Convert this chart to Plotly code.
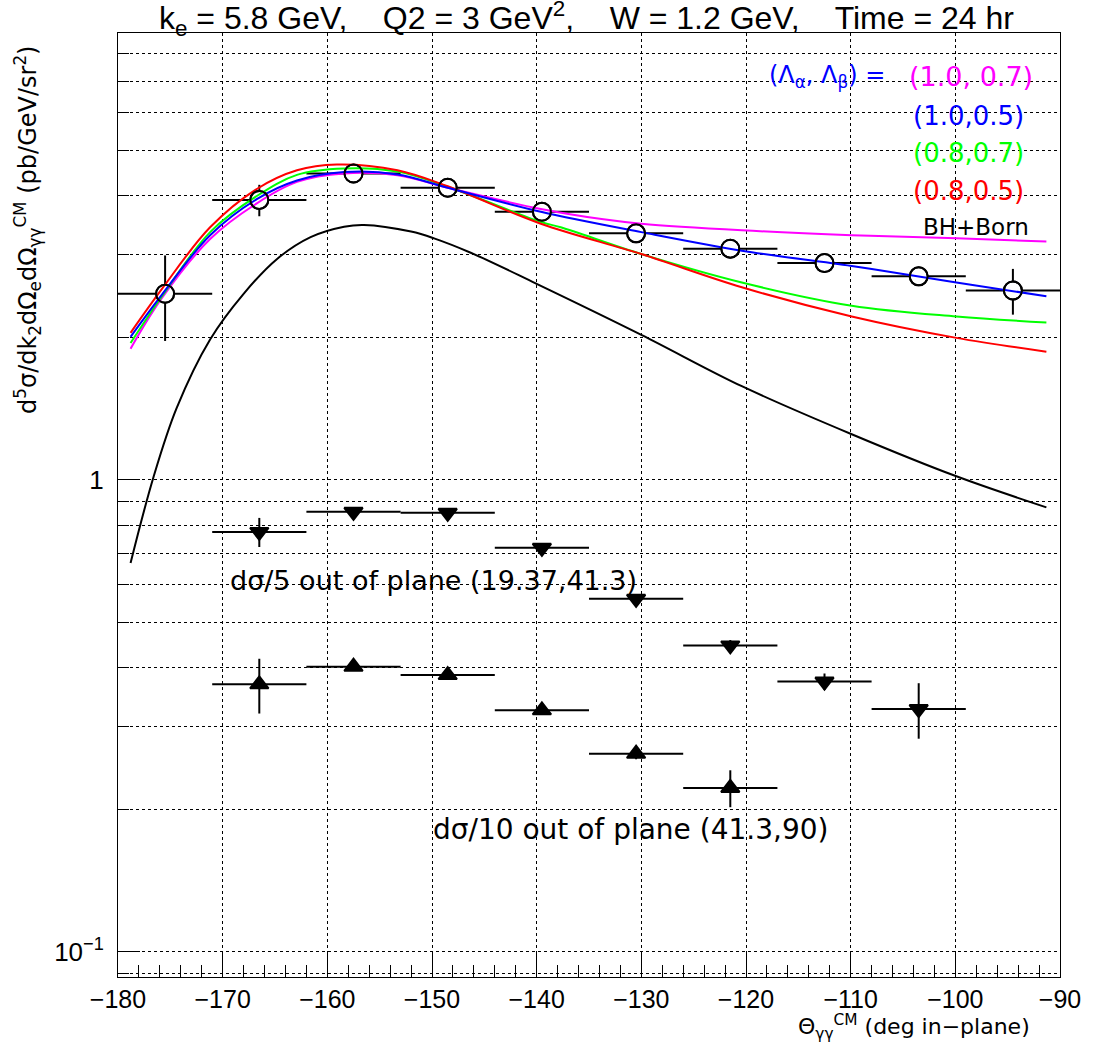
import numpy as np
import plotly.graph_objects as go

# ---------------- data ----------------
bin_centers = [-175.5, -166.5, -157.5, -148.5, -139.5, -130.5, -121.5, -112.5, -103.5, -94.5]
bin_half = 4.5

inplane_y = [2.48, 3.92, 4.46, 4.16, 3.70, 3.33, 3.09, 2.88, 2.70, 2.52]
inplane_err = [0.51, 0.30, 0.10, 0.09, 0.08, 0.07, 0.07, 0.06, 0.06, 0.28]

out5_x = [-166.5, -157.5, -148.5, -139.5, -130.5, -121.5, -112.5, -103.5]
out5_y = [0.776, 0.856, 0.852, 0.718, 0.560, 0.446, 0.374, 0.327]
out5_err = [0.055, 0.02, 0.02, 0.015, 0.012, 0.012, 0.015, 0.044]

out10_x = [-166.5, -157.5, -148.5, -139.5, -130.5, -121.5]
out10_y = [0.369, 0.402, 0.386, 0.325, 0.263, 0.2226]
out10_err = [0.049, 0.008, 0.008, 0.007, 0.007, 0.02]

bh_x = [-178.8, -176.6, -174.4, -171.2, -168.0, -164.8, -161.6, -158.4, -156.5, -152.0,
        -149.8, -146.3, -140.1, -130.0, -120.4, -109.9, -99.9, -91.3]
bh_y = [0.667, 1.016, 1.42, 1.985, 2.48, 2.94, 3.27, 3.44, 3.47, 3.36,
        3.25, 3.03, 2.61, 2.03, 1.58, 1.25, 1.018, 0.875]

mag_x = [-178.8, -175.8, -171.2, -166.7, -162.9, -158.4, -153.3, -148.5, -139.6, -133.8, -130.0,
         -120.4, -109.9, -99.9, -91.3]
mag_y = [1.897, 2.43, 3.24, 3.86, 4.28, 4.46, 4.42, 4.16, 3.75, 3.57, 3.49,
         3.38, 3.30, 3.25, 3.20]

blue_x = [-178.8, -175.8, -171.2, -166.7, -162.9, -158.4, -153.3, -148.5, -139.6, -130.0,
          -120.4, -109.9, -99.9, -91.3]
blue_y = [2.01, 2.47, 3.30, 3.94, 4.31, 4.49, 4.44, 4.16, 3.70, 3.35,
          3.06, 2.84, 2.62, 2.45]

green_x = [-178.8, -175.8, -171.2, -166.7, -162.9, -158.4, -153.3, -148.5, -139.6, -137.7, -130.0,
           -120.4, -109.9, -99.9, -91.3]
green_y = [1.95, 2.45, 3.35, 4.00, 4.43, 4.57, 4.50, 4.18, 3.52, 3.43, 3.01,
           2.62, 2.34, 2.22, 2.155]

red_x = [-178.8, -175.8, -171.2, -166.7, -162.9, -159.1, -153.3, -148.5, -139.6, -130.0,
         -120.4, -109.9, -99.9, -91.3]
red_y = [2.05, 2.54, 3.43, 4.14, 4.53, 4.66, 4.53, 4.19, 3.49, 3.01,
         2.56, 2.22, 2.00, 1.87]

x_ticks = list(range(-180, -89, 10))
x_minor = list(range(-180, -89, 2))
y_major = [0.1, 1]
y_major_text = ["10<sup>\u22121</sup>", "1"]
y_minor = [0.09] + [k / 10 for k in range(2, 10)] + list(range(2, 10))

title_text = ("k<sub>e</sub> = 5.8 GeV,    Q2 = 3 GeV<sup>2</sup>,    "
              "W = 1.2 GeV,    Time = 24 hr")

NFONT = "Liberation Sans Narrow, Liberation Sans, Arial, sans-serif"
RFONT = "Liberation Sans, Arial, sans-serif"
TFONT = "DejaVu Sans, sans-serif"

# ---------------- geometry ----------------
H, W = 1046, 1094
ml, mr, mt, mb = 118, 34, 33, 69
pw, ph = W - ml - mr, H - mt - mb

def px2paper(px, py):
    return (px - ml) / pw, 1 - (py - mt) / ph

fig = go.Figure()

def pts(xs, ys, errs, symbol, size, fill):
    fig.add_trace(go.Scatter(
        x=xs, y=ys, mode="markers",
        marker=dict(symbol=symbol, size=size, color=fill, line=dict(color="black", width=2)),
        error_x=dict(type="constant", value=bin_half, width=0, thickness=2, color="black"),
        error_y=dict(type="data", array=errs, width=0, thickness=2, color="black"),
        showlegend=False, hoverinfo="skip"))

# in-plane points first (white fill hides the error bars inside the circles)
pts(bin_centers, inplane_y, inplane_err, "circle", 18, "white")

# curves
for xs, ys, col in [(mag_x, mag_y, "#ff00ff"), (green_x, green_y, "#00ff00"),
                    (red_x, red_y, "#ff0000"), (blue_x, blue_y, "#0000ff"),
                    (bh_x, bh_y, "black")]:
    fig.add_trace(go.Scatter(x=xs, y=ys, mode="lines",
                             line=dict(color=col, width=2, shape="spline", smoothing=1.0),
                             showlegend=False, hoverinfo="skip"))

# circle outlines on top
fig.add_trace(go.Scatter(x=bin_centers, y=inplane_y, mode="markers",
                         marker=dict(symbol="circle-open", size=18, color="black", line=dict(width=2)),
                         showlegend=False, hoverinfo="skip"))

pts(out5_x, out5_y, out5_err, "triangle-down", 16, "black")
pts(out10_x, out10_y, out10_err, "triangle-up", 16, "black")

ann = []
def txt(x, y, s, color="black", size=26, anchor="left", font=TFONT):
    ann.append(dict(x=x, y=np.log10(y), xref="x", yref="y", text=s, showarrow=False,
                    xanchor=anchor, yanchor="middle", font=dict(family=font, size=size, color=color)))

txt(-118.0, 7.17, "(\u039b<sub>\u03b1</sub>, \u039b<sub>\u03b2</sub>) =", "#0000ff", 24)
txt(-104.6, 7.17, "(1.0, 0.7)", "#ff00ff", 27)
txt(-104.2, 5.89, "(1.0,0.5)", "#0000ff", 26)
txt(-104.2, 4.92, "(0.8,0.7)", "#00ff00", 26)
txt(-104.2, 4.10, "(0.8,0.5)", "#ff0000", 26)
txt(-103.3, 3.44, "BH+Born", "black", 23)
txt(-169.5, 0.613, "d\u03c3/5 out of plane (19.37,41.3)", size=27)
txt(-150.1, 0.182, "d\u03c3/10 out of plane (41.3,90)", size=28)

yx, yy = px2paper(28, 230)
ann.append(dict(x=yx, y=yy, xref="paper", yref="paper", textangle=-90,
                text="d<sup>5</sup>\u03c3/dk<sub>2</sub>d\u03a9<sub>e</sub>d\u03a9<sub>\u03b3\u03b3</sub><sup>CM</sup> (pb/GeV/sr<sup>2</sup>)",
                showarrow=False, xanchor="center", yanchor="middle",
                font=dict(family=TFONT, size=24, color="black")))
xx, xy = px2paper(1032, 1027)
ann.append(dict(x=xx, y=xy, xref="paper", yref="paper",
                text="\u0398<sub>\u03b3\u03b3</sub><sup>CM</sup> (deg in\u2212plane)",
                showarrow=False, xanchor="right", yanchor="middle",
                font=dict(family=TFONT, size=22, color="black")))
tx, ty = px2paper(586, 18)
ann.append(dict(x=tx, y=ty, xref="paper", yref="paper", text=title_text, showarrow=False,
                xanchor="center", yanchor="middle", font=dict(family=RFONT, size=32, color="black")))

fig.update_layout(
    width=W, height=H, autosize=False,
    margin=dict(l=ml, r=mr, t=mt, b=mb),
    plot_bgcolor="white", paper_bgcolor="white",
    annotations=ann,
    xaxis=dict(range=[-180, -90], tickmode="array", tickvals=x_ticks,
               ticks="inside", ticklen=25, tickwidth=1, tickcolor="black",
               showline=True, linecolor="black", linewidth=1, mirror=True,
               showgrid=True, gridcolor="black", griddash="dot", gridwidth=1,
               zeroline=False,
               tickfont=dict(family=NFONT, size=25, color="black"),
               minor=dict(tickmode="array", tickvals=x_minor, ticks="inside", ticklen=12,
                          tickcolor="black", tickwidth=1, showgrid=False)),
    yaxis=dict(type="log", range=[np.log10(0.0885), np.log10(8.85)],
               tickmode="array", tickvals=y_major, ticktext=y_major_text,
               ticks="inside", ticklen=22, tickwidth=1, tickcolor="black",
               showline=True, linecolor="black", linewidth=1, mirror=True,
               showgrid=True, gridcolor="black", griddash="dot", gridwidth=1,
               zeroline=False, ticklabelstandoff=8,
               tickfont=dict(family=NFONT, size=26, color="black"),
               minor=dict(tickmode="array", tickvals=y_minor, ticks="inside", ticklen=11,
                          tickcolor="black", tickwidth=1, showgrid=True,
                          gridcolor="black", griddash="dot", gridwidth=1)),
)

fig.write_html("out.html")
